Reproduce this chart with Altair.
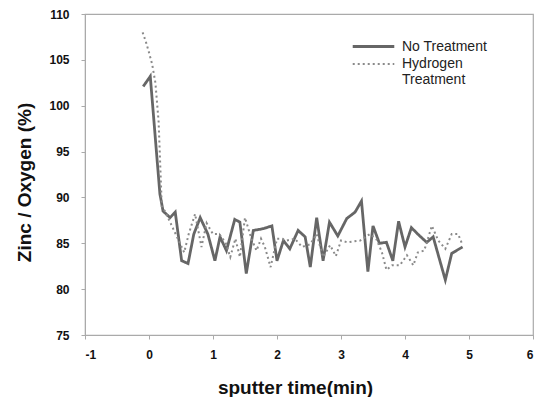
import altair as alt
import pandas as pd

no_x = [-0.09, 0.02, 0.17, 0.22, 0.33, 0.41, 0.51, 0.61, 0.70, 0.80, 0.92, 1.03, 1.11, 1.21, 1.34, 1.42, 1.52,
        1.63, 1.79, 1.92, 2.0, 2.1, 2.2, 2.33, 2.44, 2.52, 2.62, 2.72, 2.82, 2.95, 3.09, 3.22,
        3.32, 3.42, 3.5, 3.6, 3.71, 3.81, 3.9, 4.0, 4.1, 4.23, 4.34, 4.44, 4.63, 4.73, 4.9]
no_y = [102.1, 103.2, 90.4, 88.5, 87.8, 88.4, 83.1, 82.8, 86.0, 87.8, 86.0, 83.1, 85.7, 84.2, 87.6, 87.3, 81.7,
        86.4, 86.6, 86.9, 83.1, 85.3, 84.4, 86.4, 85.7, 82.4, 87.8, 83.1, 87.3, 85.8, 87.7, 88.4,
        89.6, 81.9, 86.9, 85.0, 85.1, 83.1, 87.4, 84.6, 86.7, 85.8, 85.1, 85.7, 81.0, 83.9, 84.6]

h_x = [-0.1, -0.05, 0.0, 0.05, 0.1, 0.15, 0.2, 0.25, 0.35, 0.45, 0.55, 0.62, 0.72, 0.82, 0.9, 1.0,
       1.1, 1.2, 1.27, 1.35, 1.42, 1.5, 1.6, 1.68, 1.75, 1.81, 1.9, 2.0, 2.05, 2.15, 2.28, 2.39,
       2.52, 2.62, 2.72, 2.83, 2.92, 3.0, 3.1, 3.2, 3.3, 3.45, 3.55, 3.64, 3.71, 3.8, 3.92, 4.03,
       4.13, 4.2, 4.3, 4.42, 4.52, 4.63, 4.73, 4.83, 4.9]
h_y = [108.0, 107.0, 105.8, 104.5, 102.5, 98.3, 89.0, 88.5, 87.0, 85.5, 84.0, 86.0, 88.2, 84.6, 87.2, 86.0,
       86.0, 85.0, 83.5, 85.5, 83.5, 87.8, 85.5, 84.2, 85.5, 84.6, 82.4, 85.5, 85.5, 85.3, 85.5, 84.6,
       84.9, 86.0, 83.5, 84.8, 83.6, 85.3, 85.1, 85.2, 85.3, 86.0, 85.5, 84.0, 82.1, 82.6, 82.6, 83.7,
       82.6, 84.0, 84.2, 86.9, 85.3, 84.4, 86.0, 86.0, 84.8]

series = ["No Treatment", "Hydrogen Treatment"]
x_ticks = [-1, 0, 1, 2, 3, 4, 5, 6]
y_ticks = [75, 80, 85, 90, 95, 100, 105, 110]

df = pd.concat([
    pd.DataFrame({"t": no_x, "v": no_y, "s": series[0], "o": range(len(no_x))}),
    pd.DataFrame({"t": h_x, "v": h_y, "s": series[1], "o": range(len(h_x))}),
])

legend_opts = dict(
    title=None, orient="none", legendX=278, legendY=22,
    symbolStrokeWidth=2.5, symbolSize=300, symbolType="M-2.4,0H2.4",
    labelExpr="datum.label == 'Hydrogen Treatment' ? ['Hydrogen', 'Treatment'] : datum.label",
    labelFontSize=14, labelFont="Liberation Sans", labelColor="#222",
    rowPadding=0, labelOffset=18,
)

chart = alt.Chart(df).mark_line(strokeCap="butt").encode(
    x=alt.X("t:Q", scale=alt.Scale(domain=[-1, 6], nice=False),
            axis=alt.Axis(values=x_ticks, title="sputter time(min)", labelExpr="'' + datum.value",
                          labelPadding=10, titleX=210, titleY=52, titleBaseline="middle")),
    y=alt.Y("v:Q", scale=alt.Scale(domain=[75, 110], nice=False, zero=False),
            axis=alt.Axis(values=y_ticks, title="Zinc / Oxygen (%)", labelPadding=12,
                          titleX=-61, titleY=168, titleBaseline="middle")),
    order="o:Q",
    color=alt.Color("s:N", scale=alt.Scale(domain=series, range=["#666666", "#8a8a8a"]),
                    legend=alt.Legend(**legend_opts)),
    strokeDash=alt.StrokeDash("s:N", scale=alt.Scale(domain=series, range=[[1, 0], [2, 3]]),
                              legend=alt.Legend(**legend_opts)),
    strokeWidth=alt.StrokeWidth("s:N", scale=alt.Scale(domain=series, range=[2.8, 2.0]), legend=None),
).properties(
    width=448, height=321,
    autosize=alt.AutoSizeParams(type="none"),
    padding={"left": 77, "top": 6, "right": 6, "bottom": 62},
).configure_view(
    stroke="#aaaaaa", strokeWidth=1.2,
).configure_axis(
    grid=False, domainColor="#aaaaaa", tickColor="#aaaaaa", tickSize=4,
    labelFont="Liberation Sans", labelFontWeight="bold", labelFontSize=12, labelColor="#111",
    titleFont="Liberation Sans", titleFontWeight="bold", titleFontSize=19, titleColor="#111",
)

chart.save("out.html", embed_options={"renderer": "svg", "actions": False})
